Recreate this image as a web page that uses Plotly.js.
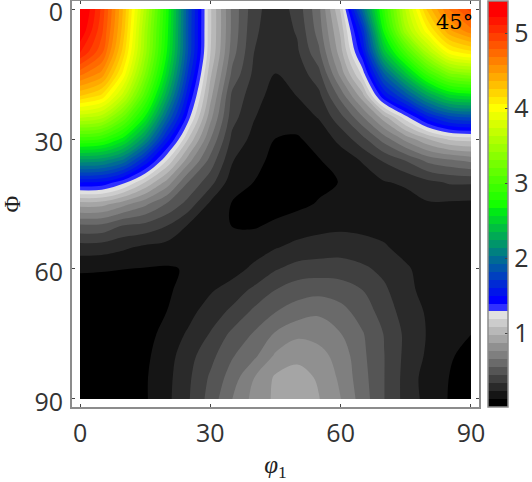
<!DOCTYPE html>
<html>
<head>
<meta charset="utf-8">
<script src="https://cdn.plot.ly/plotly-3.0.1.min.js"></script>
<style>html,body{margin:0;padding:0;background:#fff}#chart{width:532px;height:482px}</style>
</head>
<body>
<div id="chart"></div>
<script>
var phi1 = [0,5,10,15,20,25,30,35,40,45,50,55,60,65,70,75,80,85,90];
var Phi = [0,5,10,15,20,25,30,35,40,45,50,55,60,65,70,75,80,85,90];
var row00 = [5.42,4.98,4.35,3.58,2.75,1.82,1.10,.63,.38,.27,.38,.63,1.10,1.98,2.88,3.65,4.30,4.70,4.95];
var row05 = [5.32,4.93,4.31,3.50,2.72,1.81,1.10,.63,.36,.27,.35,.60,1.00,1.65,2.72,3.50,4.02,4.45,4.65];
var row10 = [5.12,4.82,4.21,3.46,2.67,1.80,1.087,.60,.34,.255,.32,.53,.93,1.48,2.40,3.00,3.55,4.00,4.12];
var row15 = [4.72,4.54,4.01,3.30,2.52,1.68,1.00,.525,.315,.23,.27,.41,.80,1.22,1.92,2.43,2.93,3.28,3.37];
var row20 = [4.27,4.13,3.68,3.03,2.28,1.51,.91,.42,.28,.185,.235,.31,.59,.93,1.50,1.85,2.25,2.53,2.60];
var row25 = [3.65,3.57,3.18,2.65,1.95,1.33,.80,.38,.24,.155,.17,.24,.41,.64,.93,1.25,1.57,1.78,1.83];
var row30 = [2.93,2.88,2.63,2.17,1.57,1.07,.66,.31,.20,.125,.115,.165,.265,.41,.60,.80,.97,1.10,1.13];
var row35 = [2.20,2.17,2.00,1.60,1.18,.80,.51,.24,.155,.10,.08,.12,.17,.24,.35,.447,.575,.63,.68];
var row40 = [1.51,1.49,1.33,1.08,.83,.54,.38,.17,.125,.09,.07,.10,.13,.175,.225,.25,.31,.35,.35];
var row45 = [.92,.91,.80,.68,.54,.40,.21,.12,.10,.095,.10,.135,.14,.165,.17,.185,.22,.215,.21];
var row50 = [.53,.525,.435,.41,.34,.22,.165,.125,.118,.14,.18,.20,.21,.205,.19,.17,.17,.175,.18];
var row55 = [.29,.285,.25,.21,.19,.165,.15,.14,.17,.225,.26,.28,.29,.27,.245,.19,.17,.165,.17];
var row60 = [.14,.135,.127,.12,.115,.135,.165,.18,.26,.33,.38,.39,.39,.36,.31,.25,.18,.16,.165];
var row65 = [.07,.07,.07,.08,.115,.155,.22,.29,.36,.45,.505,.52,.50,.447,.36,.26,.20,.16,.155];
var row70 = [.06,.06,.06,.08,.127,.197,.29,.36,.47,.55,.605,.64,.59,.505,.40,.29,.22,.155,.14];
var row75 = [.05,.05,.055,.09,.16,.25,.345,.47,.56,.67,.74,.725,.66,.56,.44,.315,.225,.15,.127];
var row80 = [.05,.05,.06,.105,.186,.30,.41,.54,.63,.78,.84,.80,.72,.575,.447,.31,.215,.135,.10];
var row85 = [.05,.05,.07,.115,.20,.32,.46,.60,.76,.885,.91,.855,.74,.59,.447,.30,.185,.125,.08];
var row90 = [.05,.06,.08,.115,.205,.33,.487,.655,.795,.89,.935,.873,.765,.607,.447,.30,.195,.12,.07];
var zRows = [row00,row05,row10,row15,row20,row25,row30,row35,row40,row45,row50,row55,row60,row65,row70,row75,row80,row85,row90];

var tickVals = [0,30,60,90];
var barTicks = [1,2,3,4,5];
var bandColors = ['#000000','#151515','#2a2a2a','#404040','#555555','#6a6a6a','#7f7f7f','#909090','#a5a5a5','#b8b8b8','#cccccc','#e0e0e0',
'#3030ff','#0000ff','#0015ea','#002ad5','#0040bf','#0055aa','#006a95','#008080','#00956a','#00aa55','#00bf40','#00d52a','#00ea15','#00ff00',
'#14ff00','#27ff00','#3bff00','#4eff00','#62ff00','#75ff00','#89ff00','#9dff00','#b0ff00','#c4ff00','#d8ff00','#ebff00','#ffff00',
'#ffea00','#ffd500','#ffbf00','#ffaa00','#ff9500','#ff8000','#ff6a00','#ff5500','#ff4000','#ff2a00','#ff1500','#ff0000'];
var zStart = 0.02, bandSize = 0.1061;

var nBands = bandColors.length;
var scale = [];
bandColors.forEach(function(c,i){ scale.push([i/nBands,c]); scale.push([(i+1)/nBands,c]); });

var font = 'Open Sans, sans-serif';
var axisBase = {
  tickmode:'array', tickvals:tickVals, ticktext:tickVals.map(String),
  ticks:'inside', ticklen:3, tickwidth:1, tickcolor:'#444',
  showline:true, linecolor:'#8c8c8c', linewidth:2, mirror:'allticks',
  showgrid:false, zeroline:false, ticklabeloverflow:'allow',
  tickfont:{family:font,size:25,color:'#333'}
};
var xaxis = Object.assign({}, axisBase, {range:[-1.85,91.85], ticklabelstandoff:3,
  title:{text:'<i>φ</i><sub>1</sub>',font:{family:'Liberation Serif, serif',size:25,color:'#222'},standoff:16}});
var yaxis = Object.assign({}, axisBase, {range:[91.85,-1.85], ticklabelstandoff:2, ticklabelshift:-3,
  title:{text:'Φ',font:{family:'Liberation Serif, serif',size:23,color:'#222'},standoff:14}});

Plotly.newPlot('chart',[{
  type:'contour', x:phi1, y:Phi, z:zRows,
  zmin:zStart, zmax:zStart+nBands*bandSize, zauto:false,
  colorscale:scale,
  autocontour:false,
  contours:{start:zStart,end:zStart+(nBands-1)*bandSize,size:bandSize,coloring:'fill',showlines:false},
  line:{width:0,smoothing:1},
  hoverinfo:'skip',
  colorbar:{
    x:1.0233,xanchor:'left',xref:'paper',y:0.5,yanchor:'middle',len:1,lenmode:'fraction',
    thickness:20,thicknessmode:'pixels',xpad:0,ypad:0,
    outlinecolor:'#8c8c8c',outlinewidth:1.5,borderwidth:0,
    tickmode:'array',tickvals:barTicks,ticktext:barTicks.map(String),
    ticks:'inside',ticklen:3,tickcolor:'#444',tickwidth:1,
    tickfont:{family:font,size:25,color:'#333'}
  }
}],{
  width:532,height:482,
  margin:{l:72,r:52.5,t:1,b:74.5,autoexpand:false},
  paper_bgcolor:'#fff',plot_bgcolor:'#fff',
  xaxis:xaxis,yaxis:yaxis,showlegend:false,
  annotations:[{x:90.9,y:-0.2,xref:'x',yref:'y',xanchor:'right',yanchor:'top',showarrow:false,
    text:'45°',font:{family:'DejaVu Serif, serif',size:21,color:'#000'}}]
},{staticPlot:true,displayModeBar:false});
</script>
</body>
</html>
